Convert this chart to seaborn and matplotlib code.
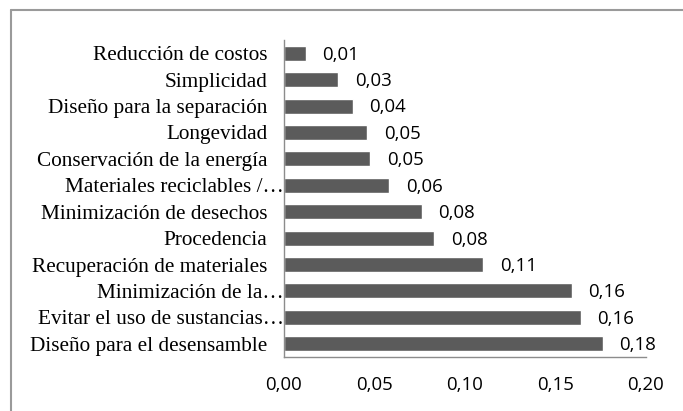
import matplotlib
matplotlib.use("Agg")
import matplotlib.pyplot as plt
import matplotlib.transforms as mtransforms
from matplotlib.lines import Line2D
from matplotlib.ticker import FuncFormatter
import pandas as pd
import seaborn as sns

# Criteria, listed from top to bottom
categories = [
    "Reducción de costos",
    "Simplicidad",
    "Diseño para la separación",
    "Longevidad",
    "Conservación de la energía",
    "Materiales reciclables /…",
    "Minimización de desechos",
    "Procedencia",
    "Recuperación de materiales",
    "Minimización de la…",
    "Evitar el uso de sustancias…",
    "Diseño para el desensamble",
]
weights = [0.012, 0.030, 0.038, 0.046, 0.0475, 0.058, 0.076, 0.083, 0.110, 0.159, 0.164, 0.176]
x_ticks = [0.00, 0.05, 0.10, 0.15, 0.20]

df = pd.DataFrame({"criterio": categories, "peso": weights})

sns.set_theme(style="white")
num_font = ["Open Sans", "DejaVu Sans"]
plt.rcParams["font.family"] = num_font

fig = plt.figure(figsize=(6.83, 4.11), dpi=100)
ax = fig.add_axes([284 / 683, 54 / 411, 362 / 683, 317 / 411])

sns.barplot(data=df, x="peso", y="criterio", order=categories, color="#5B5B5B",
            saturation=1, width=0.57, ax=ax, orient="h")

# value labels with comma decimals
for cont in ax.containers:
    anns = ax.bar_label(cont, labels=[f"{v:.2f}".replace(".", ",") for v in weights],
                        padding=12, fontsize=13.4, color="black", family=num_font)
    for a in anns:
        a.xyann = (12, -1)

ax.set_xlim(0, 0.20)
ax.set_xticks(x_ticks)
ax.xaxis.set_major_formatter(FuncFormatter(lambda v, p: f"{v:.2f}".replace(".", ",")))
ax.set_xlabel("")
ax.set_ylabel("")

ax.tick_params(axis="x", length=0, pad=14, labelsize=13.4, labelcolor="black")
ax.tick_params(axis="y", length=0, pad=12, labelsize=15.3, labelcolor="black")
for lab in ax.get_yticklabels():
    lab.set_family(["Liberation Serif", "DejaVu Serif"])
    if lab.get_text().endswith("…"):
        shift = mtransforms.ScaledTranslation(12 / 72, 0, fig.dpi_scale_trans)
        lab.set_transform(lab.get_transform() + shift)

for side in ("top", "right"):
    ax.spines[side].set_visible(False)
for side in ("left", "bottom"):
    ax.spines[side].set_color("#8C8C8C")
    ax.spines[side].set_linewidth(1.0)

# outer frame of the figure (top and left edges)
fig.add_artist(Line2D([11 / 683, 1], [1 - 10 / 411, 1 - 10 / 411], transform=fig.transFigure,
                      color="#9A9A9A", lw=1.5))
fig.add_artist(Line2D([11 / 683, 11 / 683], [0, 1 - 10 / 411], transform=fig.transFigure,
                      color="#9A9A9A", lw=1.5))

fig.savefig("out.png", dpi=100, facecolor="white")
